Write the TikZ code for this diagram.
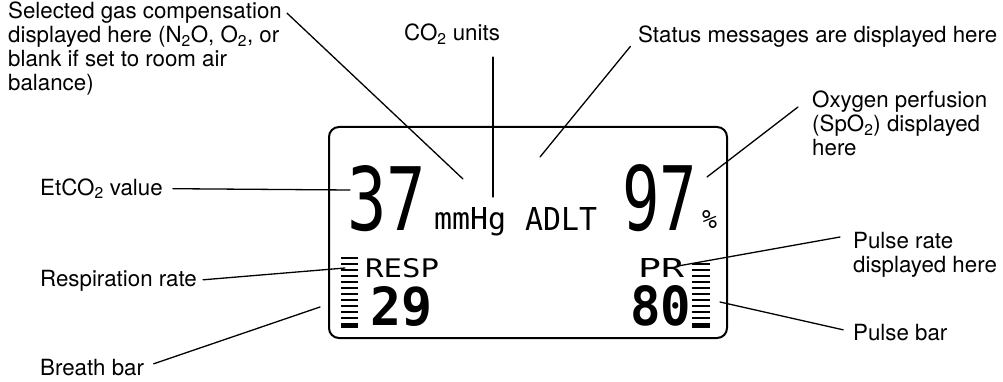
\documentclass[tikz,border=0pt]{standalone}
\usepackage{fontspec}
\setmainfont{TeX Gyre Heros}
\newfontfamily\lcdfont{DejaVu Sans Mono}
\usepackage{graphicx}
\usepackage{tikz}
\usetikzlibrary{calc}
\tikzset{
  lbl/.style={font=\fontsize{22.3}{24}\selectfont, align=left,
              inner sep=0pt, anchor=base west},
  lcdbox/.style={draw, line width=2pt, rounded corners=10pt,
                 minimum width=398pt, minimum height=211pt, inner sep=0pt},
  lcdtxt/.style={font=\lcdfont, inner sep=0pt, anchor=base west},
  lcdbold/.style={font=\lcdfont\bfseries, inner sep=0pt, anchor=base west},
  leader/.style={line width=1.3pt, line cap=round},
}

\begin{document}
\begin{tikzpicture}[x=1pt, y=-1pt]
  \useasboundingbox (0,0) rectangle (1003,382);

  %% Display panel
  \node[lcdbox] (lcd) at (528,232.5) {};

  %% Readings on the display
  \node[lcdtxt] (etval) at (347,230) {\resizebox{79pt}{65pt}{37}};
  \node[lcdtxt] (units) at (434,229) {\resizebox{72pt}{22pt}{mmHg}};
  \node[lcdtxt] (status) at (525,230) {\resizebox{72pt}{23pt}{ADLT}};
  \node[lcdtxt] (spval) at (622,230) {\resizebox{75pt}{66pt}{97}};
  \node[lcdtxt] (pct) at (702,228) {\resizebox{15pt}{18pt}{\%}};
  \node[lcdtxt] (resp) at (365,277) {\resizebox{74pt}{19pt}{RESP}};
  \node[lcdbold] (respval) at (370,325) {\resizebox{62pt}{39pt}{29}};
  \node[lcdtxt] (pr) at (638,277) {\resizebox{46pt}{19pt}{PR}};
  \node[lcdbold] (prval) at (630,325) {\resizebox{61pt}{40pt}{80}};

  %% Breath bar and pulse bar
  \foreach \y in {257,263,...,317}
    \fill (341,\y) rectangle (358,\y+2.4);
  \fill (341,323) rectangle (358,328);
  \foreach \y in {263,269,...,317}
    \fill (692,\y) rectangle (710,\y+2.4);
  \fill (692,323) rectangle (710,328);

  %% Labels (base is the last line)
  \node[lbl] (gaslab) at (8,91) {Selected gas compensation\\
    displayed here (N\textsubscript{2}O, O\textsubscript{2}, or\\
    blank if set to room air\\balance)};
  \node[lbl] (co2lab) at (404,41) {CO\textsubscript{2} units};
  \node[lbl] (statlab) at (638,43) {Status messages are displayed here};
  \node[lbl] (oxylab) at (812,156) {Oxygen perfusion\\
    (SpO\textsubscript{2}) displayed\\here};
  \node[lbl] (etlab) at (40,195) {EtCO\textsubscript{2} value};
  \node[lbl] (resplab) at (40,286) {Respiration rate};
  \node[lbl] (breathlab) at (40,375) {Breath bar};
  \node[lbl] (pulselab) at (853,272) {Pulse rate\\displayed here};
  \node[lbl] (pbarlab) at (853,340) {Pulse bar};

  %% Leader ends
  \coordinate (gasend) at (463,179);
  \coordinate (co2end) at (493,197);
  \coordinate (statend) at (540,157);
  \coordinate (oxyend) at (707,177);
  \coordinate (etend) at (350,190);
  \coordinate (respend) at (345,268);
  \coordinate (breathend) at (320,307);
  \coordinate (pulseend) at (678,266);
  \coordinate (pbarend) at (720,302);

  %% Leader lines
  \draw[leader] ([shift={(5,11)}]gaslab.north east) -- (gasend);
  \draw[leader, shorten <=12pt] (co2lab.south -| co2end) -- (co2end);
  \draw[leader, shorten <=12pt] (statlab.west) -- (statend);
  \draw[leader] ([shift={(-14,-49)}]oxylab.base west) -- (oxyend);
  \draw[leader, shorten <=10pt] (etlab.east) -- (etend);
  \draw[leader, shorten <=6pt] (resplab.east) -- (respend);
  \draw[leader, shorten <=10pt] (breathlab.east) -- (breathend);
  \draw[leader] ([shift={(-13,-35)}]pulselab.base west) -- (pulseend);
  \draw[leader, shorten <=10pt] (pbarlab.west) -- (pbarend);

\end{tikzpicture}
\end{document}
